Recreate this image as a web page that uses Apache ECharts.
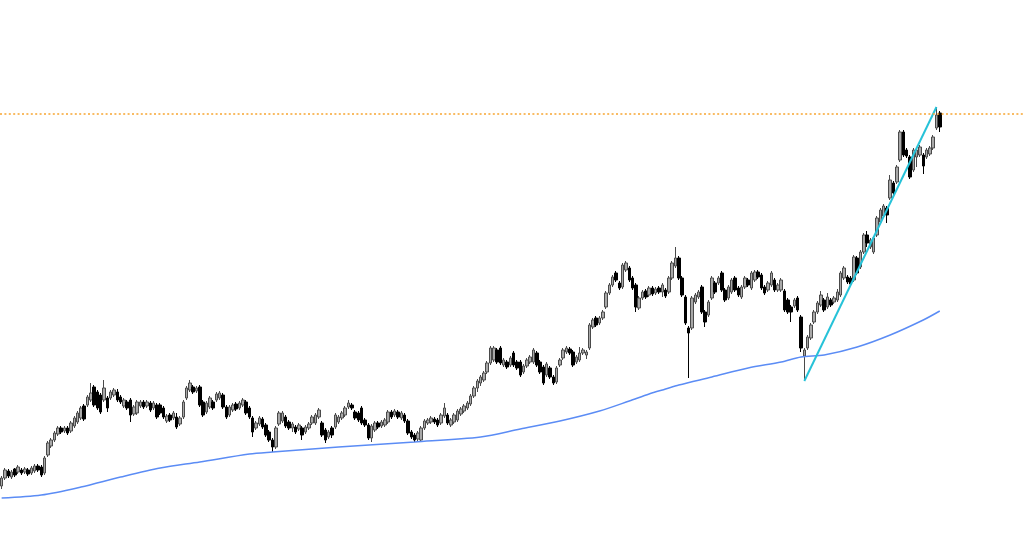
<!DOCTYPE html>
<html>
<head>
<meta charset="utf-8">
<title>Candlestick chart</title>
<script src="https://cdn.jsdelivr.net/npm/echarts@6/dist/echarts.min.js"></script>
<style>
  html, body { margin: 0; padding: 0; background: #fff; }
  #chart { width: 1024px; height: 552px; }
</style>
</head>
<body>
<div id="chart"></div>
<script>
// price points, one row per candle: [open, close, low, high]
const candles = [
  [66,74,63,76],[74,82,72,84],[81,76,74,83],[75,80,73,82],[83,77,75,84],[80,85,78,87],[82,79,77,84],[80,83,78,85],
  [82,78,76,84],[79,84,77,86],[81,86,79,88],[86,82,80,88],[85,77,75,87],[79,94,77,96],[97,109,95,111],[106,112,104,114],
  [112,119,110,121],[118,124,116,126],[124,120,118,126],[121,124,119,126],[124,119,117,126],[121,129,119,131],[126,134,124,136],[130,139,128,141],
  [134,144,132,146],[146,133,131,148],[147,155,145,157],[152,159,150,169],[165,147,145,167],[160,144,142,162],[157,140,138,159],[152,164,150,172],
  [154,144,140,156],[154,160,152,162],[157,162,155,164],[160,152,150,163],[155,150,148,157],[146,152,144,154],[150,144,142,152],[152,137,130,154],
  [138,145,136,147],[139,150,137,152],[146,150,144,152],[150,145,143,152],[146,150,144,152],[149,142,140,151],[144,149,142,151],[147,135,133,149],
  [147,139,137,149],[144,135,133,146],[131,136,129,138],[137,132,130,139],[134,139,132,141],[135,125,123,139],[128,134,126,136],[135,150,133,152],
  [154,164,152,166],[162,169,160,172],[165,160,158,167],[161,164,159,166],[165,147,145,167],[150,137,135,152],[140,149,138,151],[145,154,143,156],
  [150,144,142,152],[152,158,150,160],[154,159,152,161],[157,145,143,159],[145,135,133,147],[137,145,135,147],[142,147,140,149],[148,143,141,150],
  [144,149,142,151],[147,152,145,154],[150,139,137,152],[144,135,133,146],[134,120,115,136],[124,129,122,131],[128,134,126,136],[133,125,123,135],
  [127,117,115,129],[120,112,110,122],[112,105,100,114],[105,124,103,126],[128,139,126,141],[131,139,129,141],[135,126,124,137],[130,124,122,132],
  [124,128,120,130],[125,120,118,127],[123,127,121,129],[124,117,112,126],[120,125,118,127],[124,128,122,130],[129,135,127,137],[129,137,127,139],
  [135,142,133,144],[129,117,115,131],[122,112,109,124],[115,120,113,122],[124,117,114,126],[125,137,123,139],[130,135,128,137],[134,139,132,141],
  [137,144,135,146],[145,149,143,152],[147,144,142,149],[140,134,132,142],[139,132,130,141],[144,129,127,146],[132,127,125,134],[127,114,112,129],
  [114,126,110,128],[122,129,120,131],[129,125,123,131],[126,130,124,132],[127,132,125,134],[130,140,128,142],[140,135,133,142],[137,141,135,143],
  [140,135,133,142],[134,139,132,141],[137,131,129,139],[131,119,117,133],[120,115,113,122],[117,112,110,119],[113,119,111,121],[112,124,110,126],
  [124,131,122,133],[129,132,127,134],[130,134,128,136],[133,130,128,135],[132,127,125,134],[129,137,127,139],[136,144,134,149],[137,129,127,139],
  [127,132,125,134],[130,137,128,139],[132,141,130,143],[138,143,136,145],[141,146,139,148],[144,149,142,151],[148,156,146,158],[156,164,154,166],
  [164,171,160,173],[169,175,166,177],[172,179,170,181],[180,189,178,191],[189,204,187,206],[192,204,190,206],[202,190,188,204],[204,189,187,206],
  [187,192,185,194],[190,185,183,192],[187,194,185,196],[199,187,185,201],[190,184,182,192],[190,177,175,192],[180,186,178,188],[186,192,184,194],
  [190,195,188,197],[190,202,188,204],[199,187,185,201],[190,180,178,192],[185,169,167,187],[177,188,175,190],[184,175,173,186],[175,169,167,177],
  [170,184,168,186],[187,192,185,194],[194,202,192,204],[200,204,198,206],[203,199,197,205],[200,187,185,202],[190,195,188,197],[192,199,190,205],
  [199,202,197,204],[197,200,193,202],[204,227,202,229],[225,232,223,234],[234,227,225,236],[229,234,227,236],[234,240,232,242],[245,259,243,261],
  [259,267,257,269],[267,275,265,277],[279,272,270,281],[269,264,262,271],[265,287,263,289],[282,289,280,291],[284,272,270,286],[274,264,262,276],
  [267,245,240,269],[244,254,242,256],[254,260,252,262],[261,255,253,263],[257,264,255,266],[264,258,256,266],[259,263,257,265],[264,260,258,266],
  [260,267,255,269],[262,256,254,264],[260,274,258,276],[274,289,272,291],[286,294,284,305],[294,274,272,296],[274,257,255,276],[255,229,227,257],
  [224,219,174,226],[224,254,222,256],[250,257,248,259],[255,260,253,262],[265,240,238,267],[240,230,225,242],[237,250,235,252],[254,274,252,276],
  [269,260,258,271],[269,274,267,276],[279,262,260,281],[262,252,250,264],[254,265,252,267],[260,272,258,274],[274,262,260,276],[264,257,255,266],
  [255,265,253,267],[265,274,263,276],[272,267,265,274],[264,279,262,281],[272,280,270,282],[280,275,273,282],[277,264,262,279],[265,259,257,267],
  [262,269,260,271],[267,279,265,281],[272,262,260,274],[262,267,260,269],[262,272,260,274],[261,242,240,263],[252,240,238,254],[245,240,230,247],
  [246,252,244,254],[254,242,240,256],[235,204,200,237],[196,202,171,204],[204,215,202,217],[214,227,212,229],[230,240,228,242],[240,249,238,251],
  [247,257,245,261],[252,242,240,254],[245,255,243,259],[252,247,245,254],[250,254,248,256],[252,260,250,263],[257,279,255,281],[274,284,272,286],
  [275,270,268,277],[274,268,266,276],[272,295,270,297],[294,279,277,296],[285,300,283,302],[300,317,298,319],[317,309,305,321],[305,312,303,314],
  [300,314,298,316],[317,334,315,336],[330,342,328,344],[336,346,334,348],[344,337,329,346],[354,372,352,377],[369,359,357,371],[370,385,368,387],
  [392,420,390,422],[420,397,395,422],[402,396,394,404],[395,375,373,397],[382,402,380,404],[395,402,385,404],[397,405,395,407],[397,386,378,399],
  [395,402,393,404],[398,404,396,406],[404,415,402,417],[424,437,422,445],[439,425,420,441]
];

// moving average read at a few candle positions: [candle index, value]
const maPoints = [
  [0,54],[12,57],[24,65],[36,75],[48,84],[60,90],[75,98],[82,100],[102,105],[125,110],
  [145,115],[157,123],[169,131],[181,141],[190,151],[196,158],[201,163],[205,167],[215,175],
  [226,184],[236,190],[242,195],[249,197],[259,205],[269,217],[279,232],[284,241]
];

// trend line from the swing low to the last high
const trendPoints = [[243,171],[283,445]];

// horizontal resistance level
const resistance = 438;

const slotCount = 310;
const slots = Array.from({ length: slotCount }, (_, i) => i);

const chart = echarts.init(document.getElementById('chart'));
chart.setOption({
  animation: false,
  backgroundColor: '#fff',
  grid: { left: 0, right: 0, top: 0, bottom: 0 },
  xAxis: {
    type: 'category',
    data: slots,
    show: false,
    boundaryGap: true
  },
  yAxis: {
    type: 'value',
    min: 0,
    max: 552,
    show: false,
    splitLine: { show: false }
  },
  series: [
    {
      type: 'candlestick',
      data: candles,
      barWidth: 3,
      itemStyle: {
        color: '#a8a8a8',
        color0: '#000',
        borderColor: '#4a4a4a',
        borderColor0: '#000',
        borderWidth: 1
      },
      markLine: {
        silent: true,
        symbol: 'none',
        label: { show: false },
        lineStyle: {
          color: '#f7a531',
          type: [2, 2.4],
          width: 1.5
        },
        data: [{ yAxis: resistance }]
      }
    },
    {
      type: 'line',
      data: maPoints,
      smooth: 0.3,
      showSymbol: false,
      lineStyle: { color: '#5b8cf5', width: 1.5 }
    },
    {
      type: 'line',
      data: trendPoints,
      showSymbol: false,
      lineStyle: { color: '#26c2d8', width: 2 }
    }
  ]
});
</script>
</body>
</html>
